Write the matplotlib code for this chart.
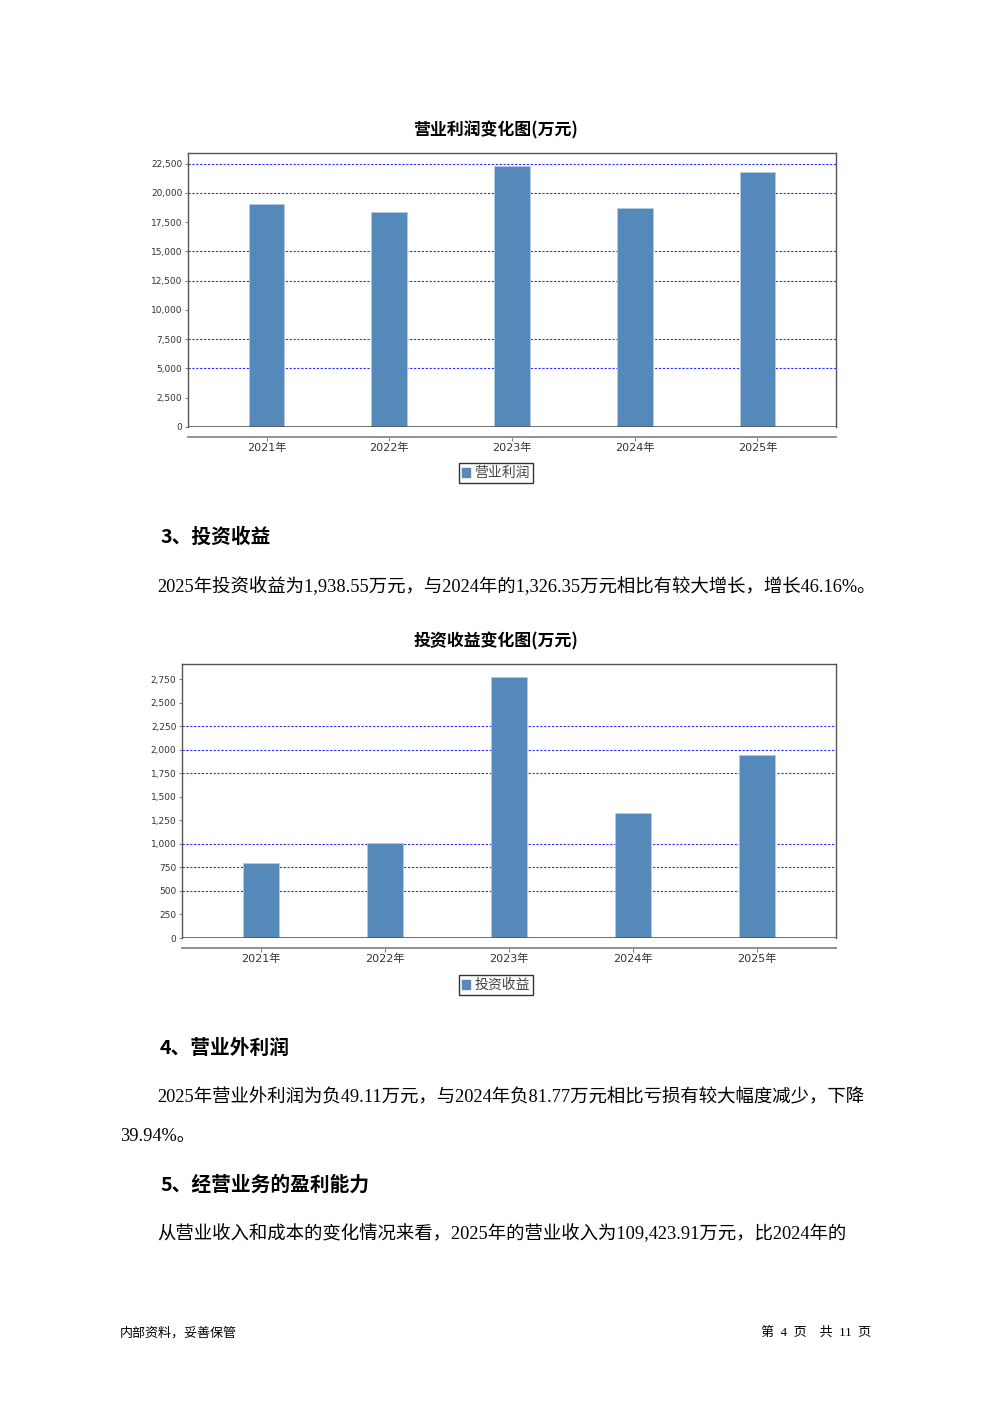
import matplotlib
matplotlib.use("Agg")
import matplotlib.pyplot as plt
from matplotlib.patches import Patch
from matplotlib.ticker import FuncFormatter, FixedLocator

plt.rcParams['font.family'] = ['DejaVu Sans', 'Noto Sans CJK SC']

# ---- data ----
years = ["2021年", "2022年", "2023年", "2024年", "2025年"]
op_profit = [19030, 18370, 22260, 18665, 21750]
op_ticks = [0, 2500, 5000, 7500, 10000, 12500, 15000, 17500, 20000, 22500]
op_grid = [5000, 7500, 12500, 15000, 20000, 22500]
inv_income = [801, 1013, 2772, 1326.35, 1938.55]
inv_ticks = [0, 250, 500, 750, 1000, 1250, 1500, 1750, 2000, 2250, 2500, 2750]
inv_grid = [500, 750, 1000, 1750, 2000, 2250]

chart1_title = "营业利润变化图(万元)"
chart1_legend = "营业利润"
chart2_title = "投资收益变化图(万元)"
chart2_legend = "投资收益"

heading3 = "3、投资收益"
para3 = "2025年投资收益为1,938.55万元，与2024年的1,326.35万元相比有较大增长，增长46.16%。"
heading4 = "4、营业外利润"
para4a = "2025年营业外利润为负49.11万元，与2024年负81.77万元相比亏损有较大幅度减少，下降"
para4b = "39.94%。"
heading5 = "5、经营业务的盈利能力"
para5 = "从营业收入和成本的变化情况来看，2025年的营业收入为109,423.91万元，比2024年的"
footer_left = "内部资料，妥善保管"
footer_right = "第  4  页    共  11  页"

W, H = 992, 1403
fig = plt.figure(figsize=(W / 100, H / 100), dpi=100)
fig.patch.set_facecolor("white")

BAR = "#5589BA"
GRID = "#2b2bff"
FRAME = "#555555"


def fx(x):
    return x / W


def fy(y):
    return 1 - y / H


def make_chart(left, right, top, zero, values, ticks, grid, ymax, title, title_y, legend_label, legend_y):
    ax = fig.add_axes([fx(left), fy(zero), fx(right) - fx(left), fy(top) - fy(zero)])
    x = list(range(len(values)))
    ax.bar(x, values, width=0.29, color=BAR, edgecolor="#b8cde3", linewidth=0.5, zorder=3)
    ax.set_xlim(-0.64, len(values) - 1 + 0.64)
    ax.set_ylim(0, ymax)
    ax.yaxis.set_major_locator(FixedLocator(ticks))
    ax.yaxis.set_major_formatter(FuncFormatter(lambda v, p: f"{int(v):,}"))
    for g in grid:
        ax.axhline(g, color=GRID, linestyle=(0, (2, 1.5)), linewidth=0.8, zorder=1)
    for s in ["top", "left", "right"]:
        ax.spines[s].set_color(FRAME)
        ax.spines[s].set_linewidth(1.0)
    ax.axhline(0, color=FRAME, linewidth=1.2, zorder=4)
    ax.spines["bottom"].set_position(("outward", 7))
    ax.spines["bottom"].set_color("#888888")
    ax.spines["bottom"].set_linewidth(1.3)
    ax.set_xticks(x)
    ax.set_xticklabels(years)
    ax.tick_params(axis="x", length=3, color="#888888", labelsize=8, labelcolor="#333333", pad=1.5)
    ax.tick_params(axis="y", length=2, color="#888888", labelsize=6.5, labelcolor="#333333", pad=2)
    fig.text(0.5, fy(title_y), title, ha="center", va="center", fontsize=12.2,
             fontweight="bold", family=["Noto Sans CJK SC"])
    leg = ax.legend(handles=[Patch(facecolor=BAR, edgecolor=BAR)], labels=[legend_label],
                    loc="center", bbox_to_anchor=(0.5, fy(legend_y)),
                    bbox_transform=fig.transFigure, fancybox=False, frameon=True,
                    handlelength=0.6, handleheight=0.6, handletextpad=0.3,
                    borderpad=0.25, prop={"family": ["Noto Sans CJK SC"], "size": 10})
    leg.get_frame().set_edgecolor("black")
    leg.get_frame().set_linewidth(1.0)
    for t in leg.get_texts():
        t.set_color("#444444")
    return ax


make_chart(188, 836, 153, 427, op_profit, op_ticks, op_grid, 23400,
           chart1_title, 130, chart1_legend, 473)
make_chart(182, 836, 664, 938, inv_income, inv_ticks, inv_grid, 2910,
           chart2_title, 641, chart2_legend, 985)

body = ["Liberation Serif", "Noto Sans CJK SC"]
head = ["Noto Sans CJK SC"]

PS = 13.25
HS = 14.2
fig.text(fx(160), fy(537), heading3, ha="left", va="center", fontsize=HS, fontweight="bold", family=head)
fig.text(fx(157), fy(587), para3, ha="left", va="center", fontsize=PS, family=body)
fig.text(fx(160), fy(1048), heading4, ha="left", va="center", fontsize=HS, fontweight="bold", family=head)
fig.text(fx(157), fy(1098), para4a, ha="left", va="center", fontsize=PS, family=body)
fig.text(fx(120), fy(1136), para4b, ha="left", va="center", fontsize=PS, family=body)
fig.text(fx(160), fy(1185), heading5, ha="left", va="center", fontsize=HS, fontweight="bold", family=head)
fig.text(fx(157), fy(1234), para5, ha="left", va="center", fontsize=PS, family=body)
fig.text(fx(120), fy(1333), footer_left, ha="left", va="center", fontsize=9.4, family=body)
fig.text(fx(871), fy(1333), footer_right, ha="right", va="center", fontsize=9.4, family=body)

fig.savefig("out.png", dpi=100, facecolor="white")
